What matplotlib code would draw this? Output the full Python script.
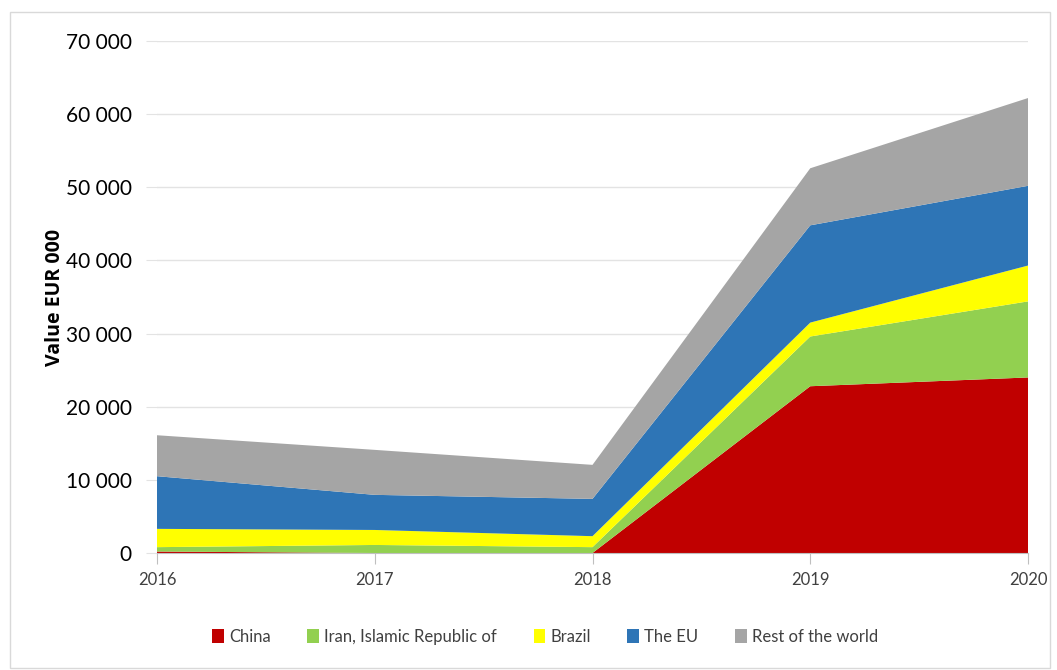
import matplotlib
matplotlib.use("Agg")
import matplotlib.pyplot as plt
from matplotlib.patches import Rectangle
from matplotlib.ticker import FuncFormatter

years = [2016, 2017, 2018, 2019, 2020]
china = [200, 0, 0, 22800, 24000]
iran = [600, 1100, 800, 6800, 10400]
brazil = [2500, 2050, 1500, 1900, 4900]
the_eu = [7200, 4800, 5100, 13300, 10900]
rest_of_world = [5600, 6150, 4650, 7800, 12000]

series_labels = ["China", "Iran, Islamic Republic of", "Brazil", "The EU", "Rest of the world"]
colors = ["#C00000", "#92D050", "#FFFF00", "#2E75B6", "#A5A5A5"]

plt.rcParams["font.family"] = ["Lato", "DejaVu Sans"]

fig = plt.figure(figsize=(10.57, 6.70), dpi=100)
ax = fig.add_axes([157 / 1057, 1 - 553 / 670, (1028 - 157) / 1057, (553 - 41) / 670])

ax.stackplot(years, china, iran, brazil, the_eu, rest_of_world,
             colors=colors, labels=series_labels, linewidth=0, zorder=2)

ax.set_xlim(2016, 2020)
ax.set_ylim(0, 70000)
ax.set_yticks(range(0, 70001, 10000))
ax.set_xticks(years)
ax.yaxis.set_major_formatter(FuncFormatter(lambda v, p: f"{int(v):,}".replace(",", " ")))
ax.grid(axis="y", color="#E3E3E3", linewidth=1, zorder=0)
ax.set_axisbelow(True)

for s in ["left", "right", "top"]:
    ax.spines[s].set_visible(False)
ax.spines["bottom"].set_color("#BFBFBF")
ax.spines["bottom"].set_zorder(3)

ax.tick_params(axis="y", length=8, color="#E3E3E3", labelsize=15, labelcolor="#000000", pad=10)
ax.tick_params(axis="x", length=8, color="#BFBFBF", labelsize=12, labelcolor="#404040", pad=6)

ax.set_ylabel("Value EUR 000", fontsize=14, fontweight="bold",
              family=["Open Sans", "DejaVu Sans"])
ax.yaxis.set_label_coords(55 / 1057, 1 - 297 / 670, transform=fig.transFigure)
ax.yaxis.label.set_verticalalignment("center")

handles, labels = ax.get_legend_handles_labels()
fig.legend(handles, labels, loc="center", bbox_to_anchor=(545 / 1057, 1 - 637 / 670),
           ncol=5, frameon=False, fontsize=12, handlelength=0.7, handleheight=0.9,
           handletextpad=0.3, columnspacing=2.2, labelcolor="#404040")

fig.patches.append(Rectangle((10 / 1057, 2 / 670), 1040 / 1057, 656 / 670,
                             transform=fig.transFigure, fill=False,
                             edgecolor="#D9D9D9", linewidth=1))

fig.savefig("out.png", dpi=100, facecolor="white")
